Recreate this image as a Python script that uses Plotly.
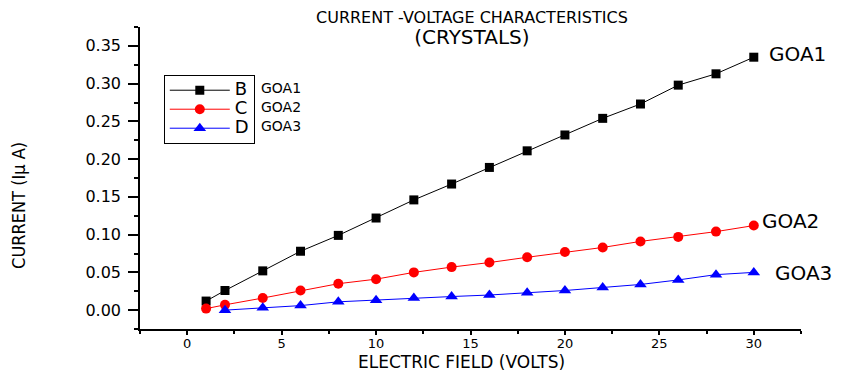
import plotly.graph_objects as go

# ---- data ----
field_goa1 = [1, 2, 4, 6, 8, 10, 12, 14, 16, 18, 20, 22, 24, 26, 28, 30]
current_goa1 = [0.012, 0.026, 0.052, 0.078, 0.099, 0.122, 0.146, 0.167, 0.189, 0.211,
                0.232, 0.254, 0.273, 0.298, 0.313, 0.335]
field_goa2 = [1, 2, 4, 6, 8, 10, 12, 14, 16, 18, 20, 22, 24, 26, 28, 30]
current_goa2 = [0.002, 0.007, 0.016, 0.026, 0.035, 0.041, 0.050, 0.057, 0.063, 0.070,
                0.077, 0.083, 0.091, 0.097, 0.104, 0.112]
field_goa3 = [2, 4, 6, 8, 10, 12, 14, 16, 18, 20, 22, 24, 26, 28, 30]
current_goa3 = [0.000, 0.003, 0.006, 0.011, 0.013, 0.016, 0.018, 0.020, 0.023, 0.026,
                0.030, 0.034, 0.040, 0.047, 0.050]
legend_names = ["B", "C", "D"]
series_labels = ["GOA1", "GOA2", "GOA3"]
x_ticks = [0, 5, 10, 15, 20, 25, 30]
y_ticks = [0.00, 0.05, 0.10, 0.15, 0.20, 0.25, 0.30, 0.35]

WIDE = "DejaVu Sans, Verdana, sans-serif"

fig = go.Figure()
series = [
    (field_goa1, current_goa1, "black", "square", 9),
    (field_goa2, current_goa2, "red", "circle", 10),
    (field_goa3, current_goa3, "blue", "triangle-up", 11),
]
for (xs, ys, col, sym, sz), nm in zip(series, legend_names):
    fig.add_trace(go.Scatter(
        x=xs, y=ys, mode="lines+markers",
        name="<span style='font-size:18px'>" + nm + "</span>",
        line=dict(color=col, width=1),
        marker=dict(color=col, symbol=sym, size=sz, line=dict(width=0)),
    ))

# end-of-line labels
end_label_pos = [(30.7, 0.339), (30.35, 0.1175), (31.0, 0.049)]
for lab, (ax, ay) in zip(series_labels, end_label_pos):
    fig.add_annotation(x=ax, y=ay, xref="x", yref="y", text=lab, showarrow=False,
                       xanchor="left", yanchor="middle",
                       font=dict(family=WIDE, size=20, color="black"))

# legend side labels
legend_label_y = [0.798, 0.735, 0.672]
for lab, ly in zip(series_labels, legend_label_y):
    fig.add_annotation(x=0.18, y=ly, xref="paper", yref="paper", text=lab, showarrow=False,
                       xanchor="left", yanchor="middle",
                       font=dict(family=WIDE, size=14, color="black"))

# two-line title in a single text block
fig.add_annotation(x=0.502, y=0.995, xref="paper", yref="paper",
                   text="<span style='font-size:16px'>CURRENT -VOLTAGE CHARACTERISTICS</span><br>"
                        "<span style='font-size:20px'>(CRYSTALS)</span>",
                   showarrow=False, yanchor="middle", align="center",
                   font=dict(family=WIDE, size=16, color="black"))
fig.add_annotation(x=0.486, y=-0.1093, xref="paper", yref="paper",
                   text="ELECTRIC FIELD (VOLTS)", showarrow=False, yanchor="middle",
                   font=dict(family=WIDE, size=17, color="black"))
fig.add_annotation(x=-0.185, y=0.41, xref="paper", yref="paper",
                   text="CURRENT (I\u03bc A)", showarrow=False, textangle=-90,
                   xanchor="center", yanchor="middle",
                   font=dict(family="DejaVu Sans Condensed, Liberation Sans Narrow, Liberation Sans, Arial, sans-serif",
                             size=18, color="black"))

fig.update_layout(
    width=844, height=371,
    margin=dict(l=132, r=51, t=19, b=50),
    paper_bgcolor="white", plot_bgcolor="white",
    showlegend=True,
    legend=dict(x=0.036, y=0.842, xanchor="left", yanchor="top",
                bgcolor="white", bordercolor="black", borderwidth=1,
                font=dict(family=WIDE, size=12, color="black"),
                itemwidth=60, tracegroupgap=0),
    xaxis=dict(range=[-2.5, 32.5], tickvals=x_ticks, showgrid=False, zeroline=False,
               showline=True, linecolor="black", linewidth=1.5,
               ticks="outside", ticklen=4, tickcolor="black", tickwidth=1.5,
               ticklabelstandoff=-2,
               minor=dict(dtick=2.5, ticks="outside", ticklen=3, tickcolor="black"),
               tickfont=dict(family=WIDE, size=13, color="black")),
    yaxis=dict(range=[-0.025, 0.375], tickvals=y_ticks, tickformat=".2f",
               showgrid=False, zeroline=False,
               showline=True, linecolor="black", linewidth=1.5,
               ticks="outside", ticklen=10, tickcolor="black", tickwidth=1.5,
               ticklabelstandoff=4,
               minor=dict(dtick=0.025, tick0=0, ticks="outside", ticklen=4, tickcolor="black"),
               tickfont=dict(family=WIDE, size=16, color="black")),
)

fig.write_html("out.html")
